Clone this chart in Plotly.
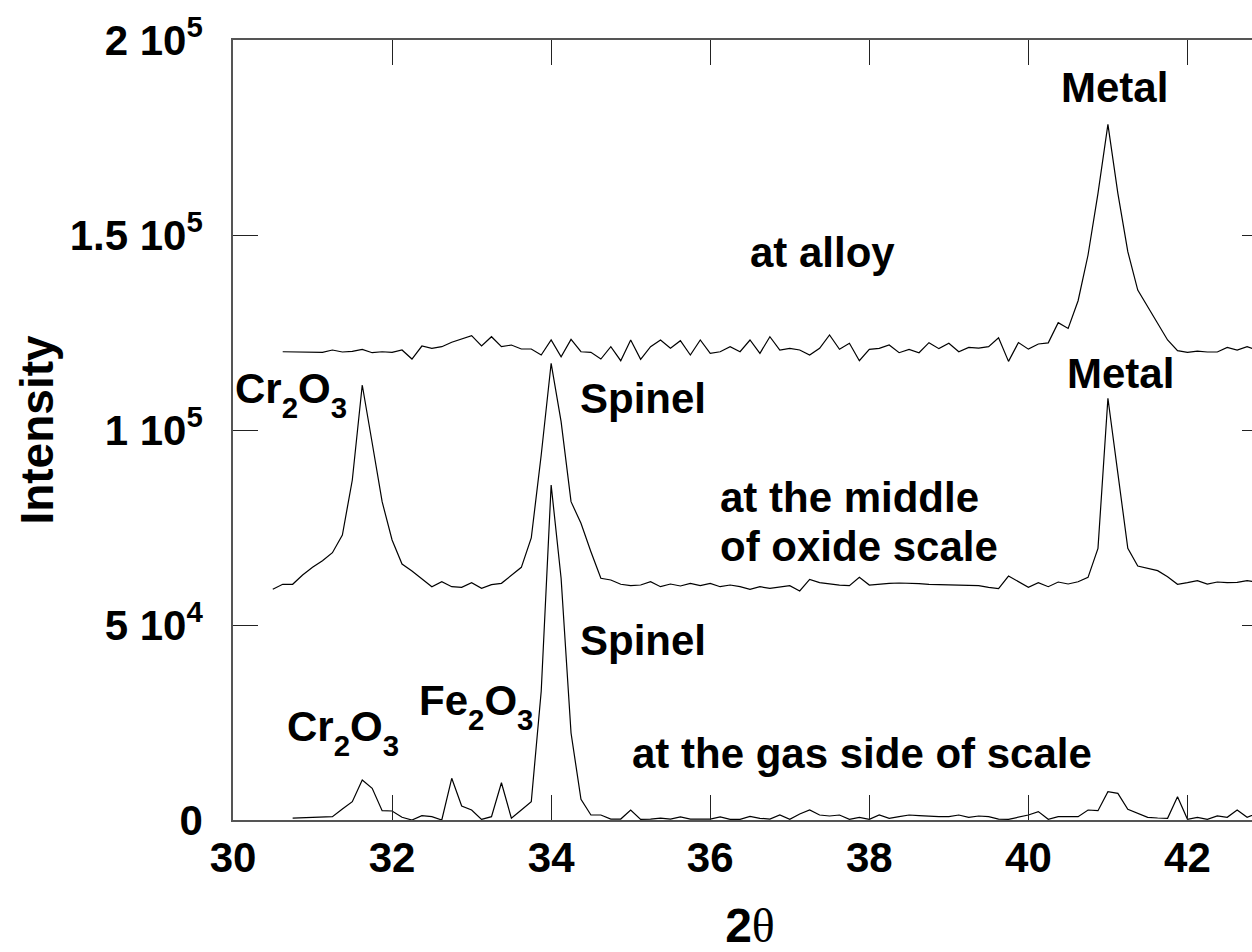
import plotly.graph_objects as go

# XRD scans across an oxide scale, 2-theta grid with 0.125 degree step
STEP = 0.125

# scan taken in the alloy (starts at 30.625 deg)
alloy_start = 30.625
alloy_counts = [
    120070, 120070, 120070, 120070, 119920, 120510, 120000, 120170, 120690,
    119820, 120070, 119920, 120510, 118200, 121530, 120950, 121360, 122490, 123410,
    124180, 121530, 123920, 121360, 121790, 120770, 120770, 119230, 123080, 118790,
    123250, 120070, 119920, 118200, 121360, 117770, 123080, 118120, 121360, 123080,
    120950, 122900, 119230, 123080, 119660, 120070, 121360, 120070, 123080, 119660,
    123920, 120510, 120950, 120510, 119230, 120950, 124360, 120690, 122230, 117770,
    120690, 120950, 121790, 119820, 120690, 119820, 122390, 120860, 122220, 120070,
    121190, 121000, 121360, 123630, 117600, 122430, 120730, 122050, 122350, 127510,
    126030, 133150, 144870, 160680, 178380, 160680, 145730, 135880, 131610, 127350,
    123080, 120340, 119920, 120250, 120000, 120000, 121190, 120510, 121360, 120500,
    121000,
]

# scan taken in the middle of the oxide scale (starts at 30.5 deg)
middle_start = 30.5
middle_counts = [
    59150, 60440, 60440, 62820, 64790, 66490, 68540, 73080, 87180, 111540,
    96670, 81620, 71790, 65640, 63850, 61790, 59820, 61100, 59820, 59670,
    60850, 59410, 60330, 60690, 62820, 64790, 72310, 93590, 117100, 102130,
    81620, 76080, 68800, 61970, 61540, 60440, 60080, 60250, 61100, 59820,
    60510, 60000, 60690, 60080, 60690, 59820, 60250, 59820, 59150, 59820,
    59410, 59820, 60080, 58720, 61710, 60850, 60510, 60250, 60080, 62220,
    60250, 60510, 60690, 60770, 60770, 60600, 60420, 60420, 60420, 60250,
    60170, 60080, 59670, 59320, 62560, 61100, 59670, 60850, 59820, 61020,
    60510, 61100, 62220, 69660, 108130, 88890, 69660, 65130, 64530, 63930,
    62390, 60430, 60850, 61360, 60510, 61020, 60850, 60940, 61360, 61000,
    61200,
]

# scan taken at the gas side of the scale (starts at 30.75 deg)
gas_start = 30.75
gas_counts = [
    500, 600, 650, 700, 850, 2800, 4690, 10260,
    8130, 2380, 2310, 690, 0, 1100, 850, 0, 10690, 3590,
    2560, 150, 850, 9560, 440, 2560, 4690, 33000, 85900, 62000,
    22300, 5300, 1280, 1280, 250, 250, 2560, 170, 200, 500,
    250, 800, 250, 250, 250, 800, 170, 170, 940, 430,
    250, 1280, 170, 1540, 2560, 1280, 1030, 1280, 170, 680,
    170, 1280, 430, 850, 1280, 1110, 940, 850, 850, 1280,
    680, 1030, 850, 250, 170, 680, 1280, 2140, 170, 850,
    850, 850, 2560, 2390, 7260, 6840, 2730, 1710, 680, 510,
    430, 5980, 170, 680, 170, 1030, 680, 2560, 680, 1710,
    800,
]

y_tick_vals = [0, 50000, 100000, 150000, 200000]
y_tick_text = ["0", "5 10<sup>4</sup>", "1 10<sup>5</sup>",
               "1.5 10<sup>5</sup>", "2 10<sup>5</sup>"]
x_tick_vals = [30, 32, 34, 36, 38, 40, 42]


def grid(start, counts):
    return [round(start + STEP * k, 4) for k in range(len(counts))]


def formula(*parts):
    # chemical formula with deep subscripts, e.g. formula("Cr", "2", "O", "3")
    out = ""
    for k, p in enumerate(parts):
        if k % 2:
            out += '<sub style="baseline-shift:-0.22em">' + p + "</sub>"
        else:
            out += p
    return out


FONT = "Liberation Sans, Arial, Helvetica, sans-serif"

fig = go.Figure()
for start, counts in [(alloy_start, alloy_counts),
                      (middle_start, middle_counts),
                      (gas_start, gas_counts)]:
    fig.add_trace(go.Scatter(
        x=grid(start, counts), y=counts, mode="lines",
        line=dict(color="black", width=1.2), showlegend=False,
        hoverinfo="skip", cliponaxis=True,
    ))

# peak and scan labels: (text, x, y, xanchor)
labels = [
    ("Metal", 41.08, 187700, "center"),
    ("at alloy", 37.41, 145600, "center"),
    (formula("Cr", "2", "O", "3"), 30.0, 109000, "left"),
    ("Spinel", 35.16, 108200, "center"),
    ("Metal", 41.16, 114600, "center"),
    ("at the middle", 36.10, 82800, "left"),
    ("of oxide scale", 36.10, 70250, "left"),
    ("Spinel", 35.16, 45900, "center"),
    (formula("Cr", "2", "O", "3"), 30.65, 22500, "left"),
    (formula("Fe", "2", "O", "3"), 32.31, 29200, "left"),
    ("at the gas side of scale", 34.99, 17180, "left"),
]
for text, x, y, xa in labels:
    fig.add_annotation(
        x=x, y=y, xref="x", yref="y", text=text, showarrow=False,
        xanchor=xa, yanchor="middle",
        font=dict(family=FONT, size=42, color="black", weight="bold"),
    )

axis_common = dict(
    showgrid=False, zeroline=False, showline=True, linecolor="#555",
    linewidth=1.5, mirror="ticks", ticks="inside", ticklen=25,
    tickwidth=1, tickcolor="#222",
    tickfont=dict(family=FONT, size=42, color="black", weight="bold"),
)

fig.update_xaxes(
    range=[30, 43], tickmode="array", tickvals=x_tick_vals,
    title=dict(
        text="<b>2</b><span style=\"font-family:'Liberation Serif'\">θ</span>",
        font=dict(family=FONT, size=48, color="black"), standoff=30),
    **axis_common,
)
fig.update_yaxes(
    range=[0, 200000], tickmode="array", tickvals=y_tick_vals,
    ticktext=y_tick_text, ticklabelstandoff=20,
    title=dict(text="Intensity",
               font=dict(family=FONT, size=46, color="black", weight="bold"),
               standoff=2),
    **axis_common,
)

fig.update_layout(
    width=1300, height=952,
    margin=dict(l=233, r=33, t=40, b=132, autoexpand=False),
    paper_bgcolor="white", plot_bgcolor="white",
)

fig.write_html(
    "out.html",
    post_script="document.body.style.overflow='hidden';"
                "document.documentElement.style.overflow='hidden';",
)
